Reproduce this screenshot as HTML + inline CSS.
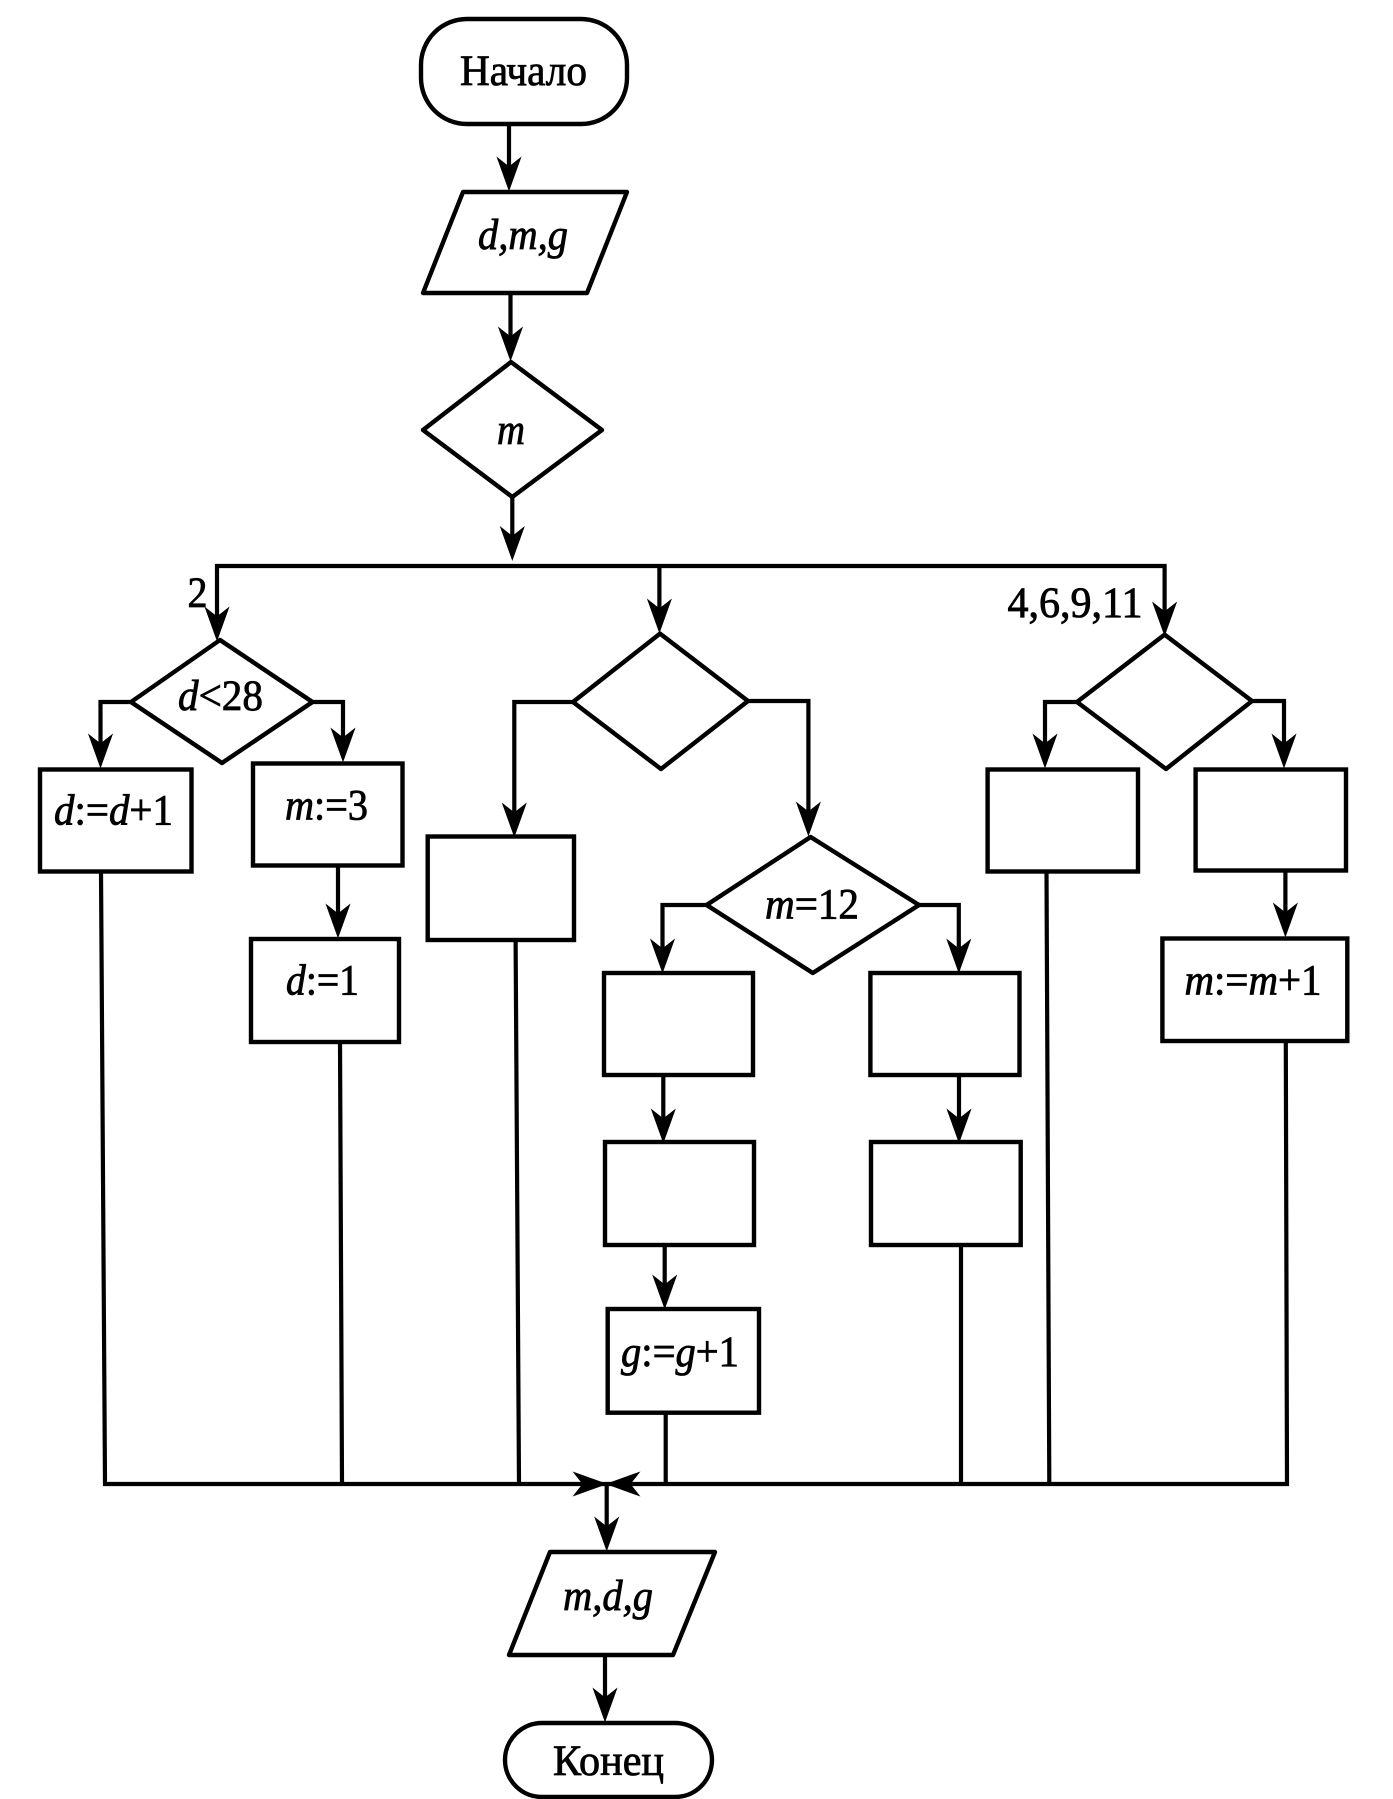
<!DOCTYPE html>
<html lang="ru"><head><meta charset="utf-8"><title>Блок-схема</title>
<style>
html,body{margin:0;padding:0;background:#fff}
svg{display:block}
text{font-family:"Liberation Serif",serif;font-size:43px;fill:#000;stroke:#000;stroke-width:.8}
tspan.i{font-style:italic}
.s{fill:#fff;stroke:#000;stroke-width:4.4;stroke-linejoin:round}
rect.s{stroke-linejoin:miter}
.l{fill:none;stroke:#000;stroke-width:4.2;stroke-linejoin:miter}
</style></head><body>
<svg xmlns="http://www.w3.org/2000/svg" width="1393" height="1799" viewBox="0 0 1393 1799">
<defs><polygon id="a" points="0,0 -11.5,-32 0,-23 11.5,-32" fill="#000" stroke="#000" stroke-width="1"/></defs>
<rect width="1393" height="1799" fill="#fff"/>

<!-- connectors -->
<path class="l" d="M509 124V175"/>
<path class="l" d="M510.5 293V345"/>
<path class="l" d="M512.3 497V545"/>
<path class="l" d="M217 634V566H1164.6V620"/>
<path class="l" d="M659.4 566V617"/>
<!-- left branch -->
<path class="l" d="M131 702H100.5V752"/>
<path class="l" d="M312 702H343V746"/>
<path class="l" d="M338 865V922"/>
<path class="l" d="M101 871L105 1484H1287L1285.8 1041"/>
<path class="l" d="M340 1041L342 1484"/>
<!-- center branch -->
<path class="l" d="M573 702H514.3V822"/>
<path class="l" d="M515.6 940L519 1484"/>
<path class="l" d="M748 701H808.4V820"/>
<path class="l" d="M706.6 905H662.5V958"/>
<path class="l" d="M919 905H958.8V958"/>
<path class="l" d="M663.3 1075V1128"/>
<path class="l" d="M664.7 1245V1294"/>
<path class="l" d="M959 1075V1128"/>
<path class="l" d="M665.7 1413V1484"/>
<path class="l" d="M961 1245V1484"/>
<!-- right branch -->
<path class="l" d="M1077 702H1045V752"/>
<path class="l" d="M1252 701H1284V752"/>
<path class="l" d="M1285.4 870V921"/>
<path class="l" d="M1046.5 871L1049.3 1484"/>
<!-- bottom -->
<path class="l" d="M606.7 1484V1535"/>
<path class="l" d="M605 1655V1706"/>

<!-- arrowheads -->
<use href="#a" x="509" y="190"/>
<use href="#a" x="510.5" y="360"/>
<use href="#a" x="512.3" y="559.5"/>
<use href="#a" x="217" y="640"/>
<use href="#a" x="659.4" y="632"/>
<use href="#a" x="1164.6" y="635"/>
<use href="#a" x="100.5" y="767"/>
<use href="#a" x="343" y="761"/>
<use href="#a" x="338" y="937"/>
<use href="#a" x="514.3" y="836"/>
<use href="#a" x="808.4" y="835"/>
<use href="#a" x="662.5" y="972"/>
<use href="#a" x="958.8" y="972"/>
<use href="#a" x="663.3" y="1142"/>
<use href="#a" x="664.7" y="1308"/>
<use href="#a" x="959" y="1142"/>
<use href="#a" x="1045" y="767"/>
<use href="#a" x="1284" y="767"/>
<use href="#a" x="1285.4" y="936"/>
<use href="#a" x="606.7" y="1550"/>
<use href="#a" x="605" y="1721"/>
<polygon points="606,1484 574,1472.5 583,1484 574,1495.5" fill="#000" stroke="#000" stroke-width="1"/>
<polygon points="607,1484 639,1472.5 630,1484 639,1495.5" fill="#000" stroke="#000" stroke-width="1"/>

<!-- nodes -->
<rect class="s" x="421" y="19" width="206" height="105" rx="46" ry="46"/>
<polygon class="s" points="463,192 627,192 587,293 423,293"/>
<polygon class="s" points="511,362 602,430 512.3,497 423,430"/>
<polygon class="s" points="220,640 312.5,702 222,763 131,702"/>
<polygon class="s" points="660,633.6 748,701 661,769 573,702"/>
<polygon class="s" points="1164.6,634.6 1252,701 1166,769 1077,702"/>
<polygon class="s" points="810.6,837 919,905 812.8,973 706.6,905"/>
<rect class="s" x="40" y="769.5" width="151.5" height="102"/>
<rect class="s" x="253" y="763.5" width="149.5" height="102"/>
<rect class="s" x="251" y="939" width="148" height="103"/>
<rect class="s" x="427.7" y="836.5" width="146.3" height="103.5"/>
<rect class="s" x="604" y="973" width="149" height="102"/>
<rect class="s" x="870.4" y="973" width="149.1" height="102"/>
<rect class="s" x="605" y="1142" width="149" height="103"/>
<rect class="s" x="871" y="1142" width="149.7" height="103"/>
<rect class="s" x="607.7" y="1309" width="151.3" height="103.7"/>
<rect class="s" x="987.6" y="769.5" width="150.4" height="102"/>
<rect class="s" x="1195.6" y="769.5" width="150.4" height="101"/>
<rect class="s" x="1162.4" y="938.5" width="184.9" height="102.5"/>
<polygon class="s" points="550,1552 715,1552 673,1655 509,1655"/>
<rect class="s" x="505" y="1723" width="207" height="74" rx="37" ry="37"/>

<!-- labels -->
<text x="460" y="85" textLength="127" lengthAdjust="spacingAndGlyphs">Начало</text>
<text x="478" y="249" textLength="90" lengthAdjust="spacingAndGlyphs"><tspan class="i">d,m,g</tspan></text>
<text x="497" y="444" textLength="28" lengthAdjust="spacingAndGlyphs"><tspan class="i">m</tspan></text>
<text x="187.5" y="607" textLength="20" lengthAdjust="spacingAndGlyphs">2</text>
<text x="178" y="710" textLength="85" lengthAdjust="spacingAndGlyphs"><tspan class="i">d</tspan>&lt;28</text>
<text x="1007.5" y="617" textLength="135" lengthAdjust="spacingAndGlyphs">4,6,9,11</text>
<text x="54" y="824.5" textLength="119" lengthAdjust="spacingAndGlyphs"><tspan class="i">d</tspan>:=<tspan class="i">d</tspan>+1</text>
<text x="285" y="819.3" textLength="83" lengthAdjust="spacingAndGlyphs"><tspan class="i">m</tspan>:=3</text>
<text x="286" y="994.6" textLength="73" lengthAdjust="spacingAndGlyphs"><tspan class="i">d</tspan>:=1</text>
<text x="765" y="918.6" textLength="94" lengthAdjust="spacingAndGlyphs"><tspan class="i">m</tspan>=12</text>
<text x="1184.5" y="994.3" textLength="137" lengthAdjust="spacingAndGlyphs"><tspan class="i">m</tspan>:=<tspan class="i">m</tspan>+1</text>
<text x="621" y="1366" textLength="118" lengthAdjust="spacingAndGlyphs"><tspan class="i">g</tspan>:=<tspan class="i">g</tspan>+1</text>
<text x="563" y="1610" textLength="90" lengthAdjust="spacingAndGlyphs"><tspan class="i">m,d,g</tspan></text>
<text x="553" y="1775" textLength="111" lengthAdjust="spacingAndGlyphs">Конец</text>
</svg>
</body></html>
